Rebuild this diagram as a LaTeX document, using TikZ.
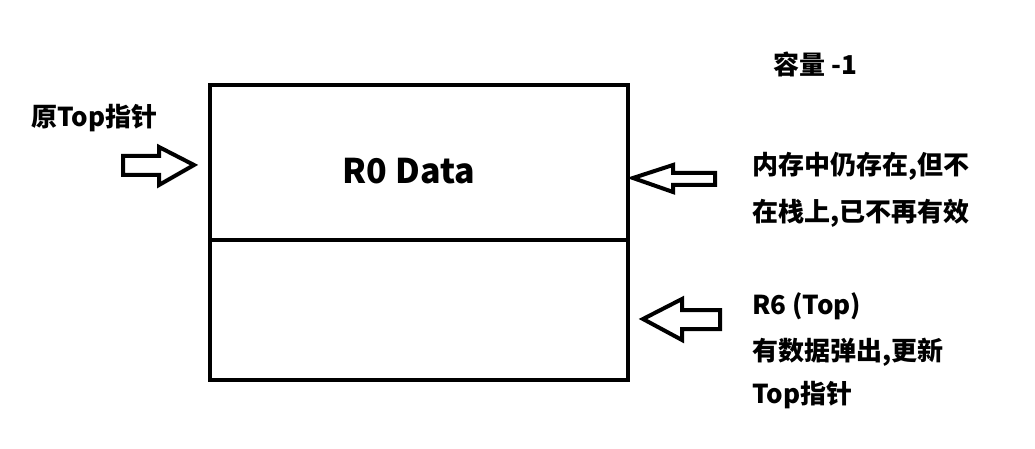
\documentclass[tikz,border=0pt]{standalone}
\usepackage{fontspec}
\newfontfamily\cjk{Noto Sans CJK SC}
\begin{document}
\begin{tikzpicture}[x=1pt, y=-1pt, line join=miter,
  ptr/.style={line width=4pt},
  lbl/.style={anchor=west, inner sep=0pt, font=\cjk\bfseries\fontsize{26}{30}\selectfont}]
  \useasboundingbox[fill=white] (0,0) rectangle (1035,449);
  % stack cells
  \node[draw, line width=4pt, minimum width=418pt, minimum height=155pt, inner sep=0pt] (cellA) at (419,162.5) {};
  \node[draw, line width=4pt, minimum width=418pt, minimum height=140pt, inner sep=0pt] (cellB) at (419,310) {};
  \node[inner sep=0pt, font=\cjk\bfseries\fontsize{34}{40}\selectfont] (data) at (409,171) {R0 Data};
  % old top pointer
  \node[lbl] (oldtop) at (31,118) {原Top指针};
  \draw[ptr] (123,156) -- (159,156) -- (159,147) -- (194,165) -- (159,185) -- (159,175) -- (123,175) -- cycle;
  % capacity
  \node[lbl] (cap) at (773,64) {容量 -1};
  % pointer to R0
  \draw[ptr] (715,173) -- (673,173) -- (673,165) -- (633,178) -- (673,192) -- (673,185) -- (715,185) -- cycle;
  \node[lbl] (memA) at (752,166) {内存中仍存在,但不};
  \node[lbl] (memB) at (752,213) {在栈上,已不再有效};
  % new top pointer
  \draw[ptr] (720,310) -- (682,310) -- (682,299) -- (643,319) -- (682,340) -- (682,329) -- (720,329) -- cycle;
  \node[lbl] (newA) at (752,306) {R6 (Top)};
  \node[lbl] (newB) at (752,352) {有数据弹出,更新};
  \node[lbl] (newC) at (752,395) {Top指针};
\end{tikzpicture}
\end{document}
